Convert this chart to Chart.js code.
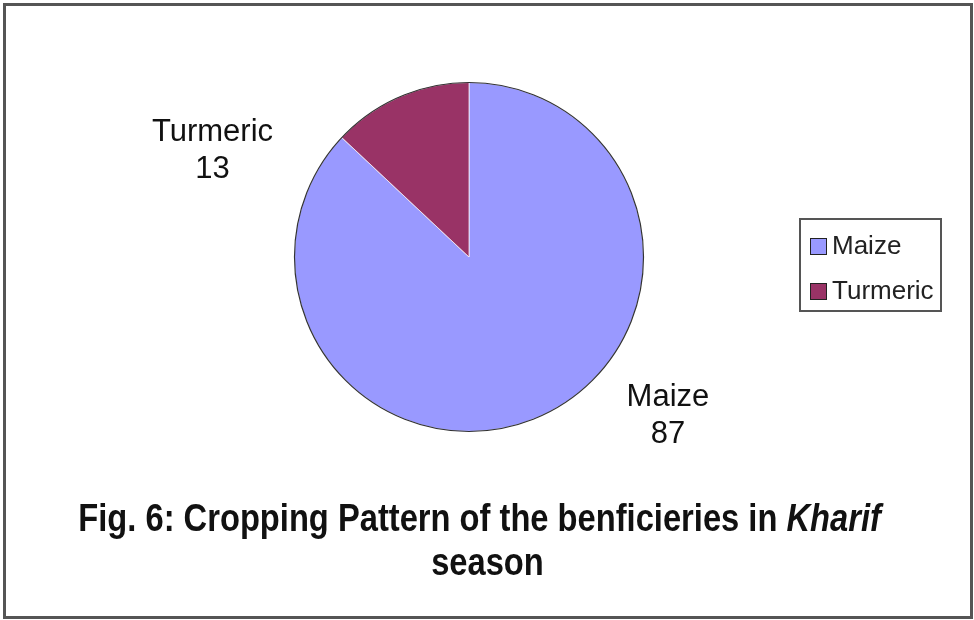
<!DOCTYPE html>
<html>
<head>
<meta charset="utf-8">
<script src="https://cdn.jsdelivr.net/npm/chart.js@4"></script>
<style>
html,body{margin:0;padding:0;background:#fff;}
#wrap{position:relative;width:974px;height:620px;overflow:hidden;}
#frame{position:absolute;left:3px;top:3px;width:964px;height:610px;border:3px solid #555;}
canvas{position:absolute;left:0;top:0;}
#title{position:absolute;left:0;width:974px;top:496px;text-align:center;font-family:"Liberation Sans Narrow","Arial Narrow","Liberation Sans",sans-serif;font-weight:bold;font-size:38px;line-height:44px;color:#111;}
#title span{display:inline-block;transform:scaleX(0.86);transform-origin:center;white-space:nowrap;}
</style>
</head>
<body>
<div id="wrap">
  <div id="frame"></div>
  <canvas id="pie" width="974" height="620"></canvas>
  <div id="title"><span style="margin-left:-14px">Fig. 6: Cropping Pattern of the benficieries in <i>Kharif</i></span><br><span>season</span></div>
</div>
<script>
const crops = ['Maize', 'Turmeric'];
const shares = [87, 13];
const colors = ['#9999FF', '#993366'];

// labels next to the slices, offsets in units of the radius
const sliceLabels = {
  id: 'sliceLabels',
  afterDatasetsDraw(chart, args, opts) {
    const ctx = chart.ctx;
    const arcs = chart.getDatasetMeta(0).data;
    ctx.save();
    ctx.font = '31px "Liberation Sans", Arial, sans-serif';
    ctx.fillStyle = '#111';
    ctx.textAlign = 'center';
    ctx.textBaseline = 'middle';
    arcs.forEach((a, i) => {
      const p = a.getProps(['x','y','outerRadius'], true);
      const off = opts.offsets[i];
      const x = p.x + off[0]*p.outerRadius, y = p.y + off[1]*p.outerRadius;
      ctx.fillText(crops[i], x, y - 18);
      ctx.fillText(String(shares[i]), x, y + 19);
    });
    // outline of the pie
    const p0 = arcs[0].getProps(['x','y','outerRadius'], true);
    ctx.beginPath();
    ctx.arc(p0.x, p0.y, p0.outerRadius, 0, Math.PI*2);
    ctx.strokeStyle = '#333';
    ctx.lineWidth = 1.2;
    ctx.stroke();
    ctx.restore();
  }
};

// boxed legend on the right
const boxLegend = {
  id: 'boxLegend',
  afterDraw(chart, args, opts) {
    const ctx = chart.ctx;
    ctx.save();
    ctx.strokeStyle = '#555';
    ctx.lineWidth = 2;
    ctx.strokeRect(opts.x, opts.y, opts.w, opts.h);
    ctx.font = '26px "Liberation Sans", Arial, sans-serif';
    ctx.textBaseline = 'middle';
    crops.forEach((c, i) => {
      const cy = opts.y + 27 + i*45;
      ctx.fillStyle = colors[i];
      ctx.fillRect(opts.x + 10, cy - 8, 17, 17);
      ctx.strokeStyle = '#222';
      ctx.lineWidth = 1;
      ctx.strokeRect(opts.x + 10.5, cy - 7.5, 16, 16);
      ctx.fillStyle = '#222';
      ctx.fillText(c, opts.x + 32, cy + 1);
    });
    ctx.restore();
  }
};

new Chart(document.getElementById('pie'), {
  type: 'pie',
  data: {
    labels: crops,
    datasets: [{ data: shares, backgroundColor: colors, borderColor: 'rgba(255,255,255,0.7)', borderWidth: 1 }]
  },
  options: {
    responsive: false,
    animation: false,
    layout: { padding: { left: 294, right: 330, top: 82, bottom: 188 } },
    plugins: {
      legend: { display: false },
      tooltip: { enabled: false },
      sliceLabels: { offsets: [[1.14, 0.91], [-1.47, -0.61]] },
      boxLegend: { x: 800, y: 219, w: 141, h: 92 }
    }
  },
  plugins: [sliceLabels, boxLegend]
});
</script>
</body>
</html>
